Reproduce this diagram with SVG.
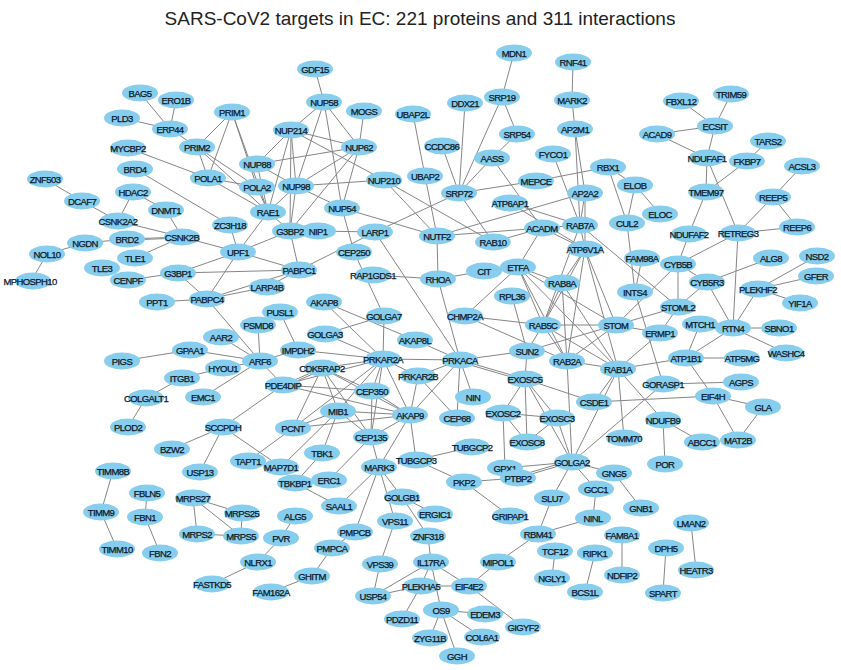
<svg xmlns="http://www.w3.org/2000/svg" width="841" height="670" viewBox="0 0 841 670">
<style>
.e path{stroke:#858585;stroke-width:1;fill:none}
.n ellipse{fill:#87CEEE;stroke:none}
.n text{font-family:"Liberation Sans",Arial,sans-serif;font-size:9.5px;letter-spacing:-0.6px;fill:#0b1626;stroke:#0b1626;stroke-width:0.25px;text-anchor:middle}
.t{font-family:"Liberation Sans",Arial,sans-serif;font-size:19px;fill:#222;text-anchor:middle}
</style>
<rect width="841" height="670" fill="#fff"/>
<text class="t" x="420" y="25">SARS-CoV2 targets in EC: 221 proteins and 311 interactions</text>
<g id="edges" class="e">
<path d="M140 93L170 129"/><path d="M176 100L170 129"/><path d="M122 118L170 129"/><path d="M170 129L197 147"/>
<path d="M197 147L208 178"/><path d="M197 147L232 112"/><path d="M197 147L257 187"/><path d="M197 147L268 212"/>
<path d="M232 112L208 178"/><path d="M232 112L257 187"/><path d="M232 112L268 212"/><path d="M128 148L208 178"/>
<path d="M135 169L230 225"/><path d="M208 178L257 187"/><path d="M208 178L268 212"/><path d="M257 187L268 212"/>
<path d="M45 179L82 201"/><path d="M82 201L118 221"/><path d="M133 192L118 221"/><path d="M133 192L166 210"/>
<path d="M166 210L182 237"/><path d="M118 221L182 237"/><path d="M127 239L182 237"/><path d="M127 240L182 238"/><path d="M127 239L85 243"/>
<path d="M85 243L47 254"/><path d="M47 254L31 281"/><path d="M182 237L135 258"/><path d="M182 237L238 252"/>
<path d="M128 280L178 273"/><path d="M178 273L238 252"/><path d="M178 273L299 270"/><path d="M178 273L207 299"/>
<path d="M157 302L207 299"/>
<path d="M315 69L324 102"/><path d="M324 102L291 130"/><path d="M324 102L296 186"/><path d="M324 102L359 147"/><path d="M324 102L342 208"/>
<path d="M364 111L359 147"/><path d="M291 130L257 164"/><path d="M291 130L359 147"/><path d="M291 130L296 186"/><path d="M291 130L384 180"/>
<path d="M291 130L268 212"/><path d="M291 130L290 231"/><path d="M359 147L257 164"/><path d="M359 147L296 186"/><path d="M359 147L342 208"/>
<path d="M359 147L290 231"/><path d="M257 164L296 186"/><path d="M257 164L268 212"/><path d="M296 186L384 180"/><path d="M296 186L268 212"/>
<path d="M296 186L342 208"/><path d="M296 186L290 231"/><path d="M268 212L290 231"/><path d="M268 212L238 252"/><path d="M230 225L238 252"/>
<path d="M290 231L238 252"/><path d="M290 231L299 270"/><path d="M318 231L375 232"/><path d="M375 232L299 270"/><path d="M375 232L459 193"/>
<path d="M238 252L299 270"/><path d="M238 252L207 299"/><path d="M299 270L267 287"/><path d="M207 299L299 270"/><path d="M207 299L267 287"/>
<path d="M207 299L260 361"/><path d="M354 252L384 316"/><path d="M354 252L342 208"/><path d="M342 208L437 236"/><path d="M384 180L437 236"/>
<path d="M384 180L493 242"/><path d="M413 114L425 176"/><path d="M425 176L437 236"/><path d="M375 232L460 360"/>
<path d="M514 53L502 97"/><path d="M502 97L517 134"/><path d="M502 97L459 193"/><path d="M517 134L492 158"/><path d="M465 103L459 193"/>
<path d="M442 146L459 193"/><path d="M492 158L459 193"/><path d="M492 158L542 228"/><path d="M459 193L536 181"/><path d="M536 181L608 167"/>
<path d="M459 193L493 242"/><path d="M437 236L585 193"/><path d="M437 236L542 228"/><path d="M437 236L438 279"/><path d="M510 203L580 225"/>
<path d="M510 203L585 249"/><path d="M542 228L580 225"/><path d="M542 228L493 242"/><path d="M542 228L518 267"/><path d="M542 228L585 249"/>
<path d="M553 154L580 225"/><path d="M575 129L585 193"/><path d="M575 129L580 225"/><path d="M585 193L580 225"/><path d="M585 193L585 249"/>
<path d="M580 225L585 249"/><path d="M573 62L572 100"/><path d="M572 100L575 129"/><path d="M608 167L627 223"/><path d="M608 167L635 185"/>
<path d="M635 185L627 223"/><path d="M635 185L660 214"/><path d="M627 223L635 292"/>
<path d="M681 101L715 126"/><path d="M731 94L715 126"/><path d="M657 134L715 126"/><path d="M657 134L707 158"/><path d="M715 126L707 158"/>
<path d="M768 141L747 161"/><path d="M747 161L706 192"/><path d="M707 158L706 192"/><path d="M707 158L738 233"/><path d="M706 192L689 234"/>
<path d="M802 166L773 197"/><path d="M773 197L738 233"/><path d="M797 227L738 233"/><path d="M773 197L797 227"/><path d="M738 233L678 264"/>
<path d="M738 233L733 328"/><path d="M689 234L678 264"/><path d="M642 258L635 292"/><path d="M678 264L678 307"/><path d="M678 264L707 282"/>
<path d="M678 264L616 325"/><path d="M707 282L771 258"/><path d="M707 282L733 328"/><path d="M707 282L678 307"/><path d="M758 289L817 256"/>
<path d="M758 289L816 276"/><path d="M758 289L800 303"/><path d="M758 289L733 328"/><path d="M733 328L779 328"/><path d="M733 328L786 353"/>
<path d="M733 328L686 358"/><path d="M700 324L686 358"/><path d="M686 358L742 358"/><path d="M686 358L618 369"/><path d="M686 358L713 396"/>
<path d="M678 307L616 325"/><path d="M678 307L660 333"/><path d="M660 333L618 369"/><path d="M616 325L660 333"/><path d="M635 292L663 384"/>
<path d="M663 384L741 382"/><path d="M663 384L572 462"/><path d="M713 396L763 407"/><path d="M713 396L738 440"/><path d="M713 396L594 402"/>
<path d="M763 407L738 440"/><path d="M663 420L702 442"/><path d="M663 420L665 464"/><path d="M663 420L618 369"/><path d="M618 369L624 438"/>
<path d="M580 225L678 307"/>
<path d="M373 275L438 279"/><path d="M438 279L484 271"/><path d="M438 279L460 360"/><path d="M484 271L518 267"/><path d="M518 267L543 325"/>
<path d="M518 267L562 283"/><path d="M518 267L567 361"/><path d="M518 267L616 325"/><path d="M518 267L618 369"/><path d="M512 296L527 351"/>
<path d="M465 316L543 325"/><path d="M465 316L567 361"/><path d="M465 316L518 267"/><path d="M543 325L616 325"/><path d="M543 325L567 361"/>
<path d="M543 325L618 369"/><path d="M543 325L562 283"/><path d="M543 325L585 249"/><path d="M543 325L580 225"/><path d="M562 283L585 249"/>
<path d="M562 283L567 361"/><path d="M562 283L618 369"/><path d="M527 351L460 360"/><path d="M527 351L616 325"/><path d="M527 351L525 379"/>
<path d="M527 351L543 325"/><path d="M460 360L525 379"/><path d="M460 362L525 381"/><path d="M460 360L473 397"/><path d="M460 360L457 418"/><path d="M460 360L410 415"/>
<path d="M460 360L418 376"/><path d="M460 360L383 359"/><path d="M460 360L415 340"/><path d="M418 376L457 418"/><path d="M525 379L503 413"/>
<path d="M525 379L557 418"/><path d="M525 379L527 442"/><path d="M525 379L594 402"/><path d="M503 413L557 418"/><path d="M503 413L527 442"/>
<path d="M503 413L505 468"/><path d="M557 418L527 442"/><path d="M557 418L572 462"/><path d="M525 379L572 462"/><path d="M567 361L618 369"/>
<path d="M567 361L572 462"/><path d="M567 361L616 325"/><path d="M472 447L416 460"/><path d="M618 369L572 462"/><path d="M594 402L618 369"/>
<path d="M585 249L616 325"/><path d="M585 249L618 369"/><path d="M585 249L567 361"/>
<path d="M298 350L383 359"/><path d="M324 302L383 359"/><path d="M324 302L415 340"/><path d="M325 334L384 316"/><path d="M325 334L383 359"/>
<path d="M384 316L383 359"/><path d="M280 312L298 350"/><path d="M258 325L260 361"/><path d="M221 337L260 361"/><path d="M223 368L260 361"/>
<path d="M190 350L260 361"/><path d="M260 361L283 385"/><path d="M203 397L260 361"/><path d="M260 361L298 350"/><path d="M122 361L190 350"/>
<path d="M182 378L223 368"/><path d="M182 378L146 398"/><path d="M146 398L128 427"/><path d="M172 449L223 427"/><path d="M223 427L200 472"/>
<path d="M283 385L223 427"/><path d="M223 427L281 467"/><path d="M322 368L383 359"/><path d="M322 368L283 385"/><path d="M322 370L283 387"/><path d="M322 368L372 391"/>
<path d="M322 368L338 411"/><path d="M322 368L293 428"/><path d="M322 368L371 437"/><path d="M322 368L410 415"/><path d="M283 385L383 359"/>
<path d="M283 385L410 415"/><path d="M283 385L372 391"/><path d="M293 428L338 411"/><path d="M293 428L383 359"/><path d="M293 428L410 415"/>
<path d="M293 428L248 461"/><path d="M338 411L322 453"/><path d="M338 411L371 437"/><path d="M338 411L281 467"/><path d="M338 411L383 359"/>
<path d="M338 411L410 415"/><path d="M372 391L371 437"/><path d="M372 391L410 415"/><path d="M372 391L383 359"/><path d="M371 437L379 467"/>
<path d="M371 437L410 415"/><path d="M371 437L383 359"/><path d="M410 415L383 359"/><path d="M410 415L416 460"/><path d="M410 415L418 376"/>
<path d="M383 359L418 376"/><path d="M379 467L410 415"/><path d="M322 453L295 483"/><path d="M295 483L339 506"/><path d="M329 480L371 437"/>
<path d="M379 467L339 506"/><path d="M379 467L355 532"/><path d="M379 467L395 521"/><path d="M379 467L402 497"/><path d="M416 460L464 482"/>
<path d="M402 497L435 514"/><path d="M402 497L428 536"/><path d="M395 521L380 564"/><path d="M380 564L373 596"/><path d="M355 532L332 548"/>
<path d="M332 548L312 576"/><path d="M312 576L271 592"/><path d="M295 516L281 538"/><path d="M281 538L258 562"/><path d="M258 562L212 584"/>
<path d="M193 498L242 513"/><path d="M193 498L241 536"/><path d="M193 498L197 534"/><path d="M197 534L241 536"/><path d="M242 513L241 536"/>
<path d="M373 596L421 586"/><path d="M373 596L431 562"/><path d="M421 586L402 619"/><path d="M428 536L431 562"/><path d="M431 562L421 586"/>
<path d="M431 562L469 586"/><path d="M431 562L441 610"/><path d="M421 586L469 586"/><path d="M469 586L498 562"/><path d="M469 586L523 627"/>
<path d="M498 562L538 534"/><path d="M538 534L552 498"/><path d="M538 534L593 518"/><path d="M441 610L485 614"/><path d="M441 610L482 637"/>
<path d="M441 610L430 638"/><path d="M441 610L457 656"/><path d="M572 462L518 478"/><path d="M572 460L518 476"/><path d="M572 462L505 468"/><path d="M572 462L552 498"/>
<path d="M572 462L596 489"/><path d="M572 462L614 473"/><path d="M614 473L641 508"/><path d="M596 489L593 518"/><path d="M464 482L518 478"/>
<path d="M464 482L510 516"/><path d="M555 551L552 578"/><path d="M595 553L585 592"/><path d="M622 535L622 575"/><path d="M666 548L663 593"/>
<path d="M691 523L696 570"/><path d="M147 493L145 517"/><path d="M145 517L160 553"/><path d="M113 471L101 512"/><path d="M101 512L117 549"/>
</g>
<g class="n">
<g id="n_ZNF503"><ellipse cx="45" cy="179" rx="18" ry="8.5"/><text x="45" y="182.5">ZNF503</text></g>
<g id="n_DCAF7"><ellipse cx="82" cy="201" rx="18" ry="8.5"/><text x="82" y="204.5">DCAF7</text></g>
<g id="n_HDAC2"><ellipse cx="133" cy="192" rx="18" ry="8.5"/><text x="133" y="195.5">HDAC2</text></g>
<g id="n_DNMT1"><ellipse cx="166" cy="210" rx="18" ry="8.5"/><text x="166" y="213.5">DNMT1</text></g>
<g id="n_CSNK2A2"><ellipse cx="118" cy="221" rx="18" ry="8.5"/><text x="118" y="224.5">CSNK2A2</text></g>
<g id="n_CSNK2B"><ellipse cx="182" cy="237" rx="18" ry="8.5"/><text x="182" y="240.5">CSNK2B</text></g>
<g id="n_BRD2"><ellipse cx="127" cy="239" rx="18" ry="8.5"/><text x="127" y="242.5">BRD2</text></g>
<g id="n_NGDN"><ellipse cx="85" cy="243" rx="18" ry="8.5"/><text x="85" y="246.5">NGDN</text></g>
<g id="n_NOL10"><ellipse cx="47" cy="254" rx="18" ry="8.5"/><text x="47" y="257.5">NOL10</text></g>
<g id="n_MPHOSPH10"><ellipse cx="33" cy="281" rx="18" ry="8.5"/><text x="30" y="284.5">MPHOSPH10</text></g>
<g id="n_TLE1"><ellipse cx="135" cy="258" rx="18" ry="8.5"/><text x="135" y="261.5">TLE1</text></g>
<g id="n_TLE3"><ellipse cx="102" cy="268" rx="18" ry="8.5"/><text x="102" y="271.5">TLE3</text></g>
<g id="n_CENPF"><ellipse cx="128" cy="280" rx="18" ry="8.5"/><text x="128" y="283.5">CENPF</text></g>
<g id="n_G3BP1"><ellipse cx="178" cy="273" rx="18" ry="8.5"/><text x="178" y="276.5">G3BP1</text></g>
<g id="n_PPT1"><ellipse cx="157" cy="302" rx="18" ry="8.5"/><text x="157" y="305.5">PPT1</text></g>
<g id="n_PABPC4"><ellipse cx="207" cy="299" rx="18" ry="8.5"/><text x="207" y="302.5">PABPC4</text></g>
<g id="n_BRD4"><ellipse cx="135" cy="169" rx="18" ry="8.5"/><text x="135" y="172.5">BRD4</text></g>
<g id="n_MYCBP2"><ellipse cx="128" cy="148" rx="18" ry="8.5"/><text x="128" y="151.5">MYCBP2</text></g>
<g id="n_PLD3"><ellipse cx="122" cy="118" rx="18" ry="8.5"/><text x="122" y="121.5">PLD3</text></g>
<g id="n_BAG5"><ellipse cx="140" cy="93" rx="18" ry="8.5"/><text x="140" y="96.5">BAG5</text></g>
<g id="n_ERO1B"><ellipse cx="176" cy="100" rx="18" ry="8.5"/><text x="176" y="103.5">ERO1B</text></g>
<g id="n_ERP44"><ellipse cx="170" cy="129" rx="18" ry="8.5"/><text x="170" y="132.5">ERP44</text></g>
<g id="n_PRIM2"><ellipse cx="197" cy="147" rx="18" ry="8.5"/><text x="197" y="150.5">PRIM2</text></g>
<g id="n_PRIM1"><ellipse cx="232" cy="112" rx="18" ry="8.5"/><text x="232" y="115.5">PRIM1</text></g>
<g id="n_POLA1"><ellipse cx="208" cy="178" rx="18" ry="8.5"/><text x="208" y="181.5">POLA1</text></g>
<g id="n_POLA2"><ellipse cx="257" cy="187" rx="18" ry="8.5"/><text x="257" y="190.5">POLA2</text></g>
<g id="n_NUP88"><ellipse cx="257" cy="164" rx="18" ry="8.5"/><text x="257" y="167.5">NUP88</text></g>
<g id="n_NUP214"><ellipse cx="291" cy="130" rx="18" ry="8.5"/><text x="291" y="133.5">NUP214</text></g>
<g id="n_NUP58"><ellipse cx="324" cy="102" rx="18" ry="8.5"/><text x="324" y="105.5">NUP58</text></g>
<g id="n_GDF15"><ellipse cx="315" cy="69" rx="18" ry="8.5"/><text x="315" y="72.5">GDF15</text></g>
<g id="n_MOGS"><ellipse cx="364" cy="111" rx="18" ry="8.5"/><text x="364" y="114.5">MOGS</text></g>
<g id="n_NUP62"><ellipse cx="359" cy="147" rx="18" ry="8.5"/><text x="359" y="150.5">NUP62</text></g>
<g id="n_NUP98"><ellipse cx="296" cy="186" rx="18" ry="8.5"/><text x="296" y="189.5">NUP98</text></g>
<g id="n_NUP210"><ellipse cx="384" cy="180" rx="18" ry="8.5"/><text x="384" y="183.5">NUP210</text></g>
<g id="n_NUP54"><ellipse cx="342" cy="208" rx="18" ry="8.5"/><text x="342" y="211.5">NUP54</text></g>
<g id="n_RAE1"><ellipse cx="268" cy="212" rx="18" ry="8.5"/><text x="268" y="215.5">RAE1</text></g>
<g id="n_ZC3H18"><ellipse cx="230" cy="225" rx="18" ry="8.5"/><text x="230" y="228.5">ZC3H18</text></g>
<g id="n_NIP1"><ellipse cx="318" cy="231" rx="18" ry="8.5"/><text x="318" y="234.5">NIP1</text></g>
<g id="n_G3BP2"><ellipse cx="290" cy="231" rx="18" ry="8.5"/><text x="290" y="234.5">G3BP2</text></g>
<g id="n_LARP1"><ellipse cx="375" cy="232" rx="18" ry="8.5"/><text x="375" y="235.5">LARP1</text></g>
<g id="n_UPF1"><ellipse cx="238" cy="252" rx="18" ry="8.5"/><text x="238" y="255.5">UPF1</text></g>
<g id="n_CEP250"><ellipse cx="354" cy="252" rx="18" ry="8.5"/><text x="354" y="255.5">CEP250</text></g>
<g id="n_PABPC1"><ellipse cx="299" cy="270" rx="18" ry="8.5"/><text x="299" y="273.5">PABPC1</text></g>
<g id="n_LARP4B"><ellipse cx="267" cy="287" rx="18" ry="8.5"/><text x="267" y="290.5">LARP4B</text></g>
<g id="n_UBAP2L"><ellipse cx="413" cy="114" rx="18" ry="8.5"/><text x="413" y="117.5">UBAP2L</text></g>
<g id="n_UBAP2"><ellipse cx="425" cy="176" rx="18" ry="8.5"/><text x="425" y="179.5">UBAP2</text></g>
<g id="n_CCDC86"><ellipse cx="442" cy="146" rx="18" ry="8.5"/><text x="442" y="149.5">CCDC86</text></g>
<g id="n_DDX21"><ellipse cx="465" cy="103" rx="18" ry="8.5"/><text x="465" y="106.5">DDX21</text></g>
<g id="n_SRP19"><ellipse cx="502" cy="97" rx="18" ry="8.5"/><text x="502" y="100.5">SRP19</text></g>
<g id="n_MDN1"><ellipse cx="514" cy="53" rx="18" ry="8.5"/><text x="514" y="56.5">MDN1</text></g>
<g id="n_SRP54"><ellipse cx="517" cy="134" rx="18" ry="8.5"/><text x="517" y="137.5">SRP54</text></g>
<g id="n_AASS"><ellipse cx="492" cy="158" rx="18" ry="8.5"/><text x="492" y="161.5">AASS</text></g>
<g id="n_SRP72"><ellipse cx="459" cy="193" rx="18" ry="8.5"/><text x="459" y="196.5">SRP72</text></g>
<g id="n_MEPCE"><ellipse cx="536" cy="181" rx="18" ry="8.5"/><text x="536" y="184.5">MEPCE</text></g>
<g id="n_NUTF2"><ellipse cx="437" cy="236" rx="18" ry="8.5"/><text x="437" y="239.5">NUTF2</text></g>
<g id="n_RAB10"><ellipse cx="493" cy="242" rx="18" ry="8.5"/><text x="493" y="245.5">RAB10</text></g>
<g id="n_ATP6AP1"><ellipse cx="510" cy="203" rx="18" ry="8.5"/><text x="510" y="206.5">ATP6AP1</text></g>
<g id="n_ACADM"><ellipse cx="542" cy="228" rx="18" ry="8.5"/><text x="542" y="231.5">ACADM</text></g>
<g id="n_RAB7A"><ellipse cx="580" cy="225" rx="18" ry="8.5"/><text x="580" y="228.5">RAB7A</text></g>
<g id="n_ATP6V1A"><ellipse cx="585" cy="249" rx="18" ry="8.5"/><text x="585" y="252.5">ATP6V1A</text></g>
<g id="n_AP2A2"><ellipse cx="585" cy="193" rx="18" ry="8.5"/><text x="585" y="196.5">AP2A2</text></g>
<g id="n_FYCO1"><ellipse cx="553" cy="154" rx="18" ry="8.5"/><text x="553" y="157.5">FYCO1</text></g>
<g id="n_AP2M1"><ellipse cx="575" cy="129" rx="18" ry="8.5"/><text x="575" y="132.5">AP2M1</text></g>
<g id="n_MARK2"><ellipse cx="572" cy="100" rx="18" ry="8.5"/><text x="572" y="103.5">MARK2</text></g>
<g id="n_RNF41"><ellipse cx="573" cy="62" rx="18" ry="8.5"/><text x="573" y="65.5">RNF41</text></g>
<g id="n_RBX1"><ellipse cx="608" cy="167" rx="18" ry="8.5"/><text x="608" y="170.5">RBX1</text></g>
<g id="n_ELOB"><ellipse cx="635" cy="185" rx="18" ry="8.5"/><text x="635" y="188.5">ELOB</text></g>
<g id="n_ELOC"><ellipse cx="660" cy="214" rx="18" ry="8.5"/><text x="660" y="217.5">ELOC</text></g>
<g id="n_CUL2"><ellipse cx="627" cy="223" rx="18" ry="8.5"/><text x="627" y="226.5">CUL2</text></g>
<g id="n_FBXL12"><ellipse cx="681" cy="101" rx="18" ry="8.5"/><text x="681" y="104.5">FBXL12</text></g>
<g id="n_TRIM59"><ellipse cx="731" cy="94" rx="18" ry="8.5"/><text x="731" y="97.5">TRIM59</text></g>
<g id="n_ECSIT"><ellipse cx="715" cy="126" rx="18" ry="8.5"/><text x="715" y="129.5">ECSIT</text></g>
<g id="n_ACAD9"><ellipse cx="657" cy="134" rx="18" ry="8.5"/><text x="657" y="137.5">ACAD9</text></g>
<g id="n_NDUFAF1"><ellipse cx="707" cy="158" rx="18" ry="8.5"/><text x="707" y="161.5">NDUFAF1</text></g>
<g id="n_TARS2"><ellipse cx="768" cy="141" rx="18" ry="8.5"/><text x="768" y="144.5">TARS2</text></g>
<g id="n_FKBP7"><ellipse cx="747" cy="161" rx="18" ry="8.5"/><text x="747" y="164.5">FKBP7</text></g>
<g id="n_TMEM97"><ellipse cx="706" cy="192" rx="18" ry="8.5"/><text x="706" y="195.5">TMEM97</text></g>
<g id="n_ACSL3"><ellipse cx="802" cy="166" rx="18" ry="8.5"/><text x="802" y="169.5">ACSL3</text></g>
<g id="n_REEP5"><ellipse cx="773" cy="197" rx="18" ry="8.5"/><text x="773" y="200.5">REEP5</text></g>
<g id="n_REEP6"><ellipse cx="797" cy="227" rx="18" ry="8.5"/><text x="797" y="230.5">REEP6</text></g>
<g id="n_RETREG3"><ellipse cx="738" cy="233" rx="18" ry="8.5"/><text x="738" y="236.5">RETREG3</text></g>
<g id="n_NDUFAF2"><ellipse cx="689" cy="234" rx="18" ry="8.5"/><text x="689" y="237.5">NDUFAF2</text></g>
<g id="n_CYB5B"><ellipse cx="678" cy="264" rx="18" ry="8.5"/><text x="678" y="267.5">CYB5B</text></g>
<g id="n_FAM98A"><ellipse cx="642" cy="258" rx="18" ry="8.5"/><text x="642" y="261.5">FAM98A</text></g>
<g id="n_INTS4"><ellipse cx="635" cy="292" rx="18" ry="8.5"/><text x="635" y="295.5">INTS4</text></g>
<g id="n_STOML2"><ellipse cx="678" cy="307" rx="18" ry="8.5"/><text x="678" y="310.5">STOML2</text></g>
<g id="n_ERMP1"><ellipse cx="660" cy="333" rx="18" ry="8.5"/><text x="660" y="336.5">ERMP1</text></g>
<g id="n_CYB5R3"><ellipse cx="707" cy="282" rx="18" ry="8.5"/><text x="707" y="285.5">CYB5R3</text></g>
<g id="n_ALG8"><ellipse cx="771" cy="258" rx="18" ry="8.5"/><text x="771" y="261.5">ALG8</text></g>
<g id="n_NSD2"><ellipse cx="817" cy="256" rx="18" ry="8.5"/><text x="817" y="259.5">NSD2</text></g>
<g id="n_GFER"><ellipse cx="816" cy="276" rx="18" ry="8.5"/><text x="816" y="279.5">GFER</text></g>
<g id="n_PLEKHF2"><ellipse cx="758" cy="289" rx="18" ry="8.5"/><text x="758" y="292.5">PLEKHF2</text></g>
<g id="n_YIF1A"><ellipse cx="800" cy="303" rx="18" ry="8.5"/><text x="800" y="306.5">YIF1A</text></g>
<g id="n_RTN4"><ellipse cx="733" cy="328" rx="18" ry="8.5"/><text x="733" y="331.5">RTN4</text></g>
<g id="n_SBNO1"><ellipse cx="779" cy="328" rx="18" ry="8.5"/><text x="779" y="331.5">SBNO1</text></g>
<g id="n_WASHC4"><ellipse cx="786" cy="353" rx="18" ry="8.5"/><text x="786" y="356.5">WASHC4</text></g>
<g id="n_MTCH1"><ellipse cx="700" cy="324" rx="18" ry="8.5"/><text x="700" y="327.5">MTCH1</text></g>
<g id="n_ATP1B1"><ellipse cx="686" cy="358" rx="18" ry="8.5"/><text x="686" y="361.5">ATP1B1</text></g>
<g id="n_ATP5MG"><ellipse cx="742" cy="358" rx="18" ry="8.5"/><text x="742" y="361.5">ATP5MG</text></g>
<g id="n_AGPS"><ellipse cx="741" cy="382" rx="18" ry="8.5"/><text x="741" y="385.5">AGPS</text></g>
<g id="n_GORASP1"><ellipse cx="663" cy="384" rx="18" ry="8.5"/><text x="663" y="387.5">GORASP1</text></g>
<g id="n_EIF4H"><ellipse cx="713" cy="396" rx="18" ry="8.5"/><text x="713" y="399.5">EIF4H</text></g>
<g id="n_GLA"><ellipse cx="763" cy="407" rx="18" ry="8.5"/><text x="763" y="410.5">GLA</text></g>
<g id="n_MAT2B"><ellipse cx="738" cy="440" rx="18" ry="8.5"/><text x="738" y="443.5">MAT2B</text></g>
<g id="n_NDUFB9"><ellipse cx="663" cy="420" rx="18" ry="8.5"/><text x="663" y="423.5">NDUFB9</text></g>
<g id="n_ABCC1"><ellipse cx="702" cy="442" rx="18" ry="8.5"/><text x="702" y="445.5">ABCC1</text></g>
<g id="n_POR"><ellipse cx="665" cy="464" rx="18" ry="8.5"/><text x="665" y="467.5">POR</text></g>
<g id="n_TOMM70"><ellipse cx="624" cy="438" rx="18" ry="8.5"/><text x="624" y="441.5">TOMM70</text></g>
<g id="n_STOM"><ellipse cx="616" cy="325" rx="18" ry="8.5"/><text x="616" y="328.5">STOM</text></g>
<g id="n_RAB1A"><ellipse cx="618" cy="369" rx="18" ry="8.5"/><text x="618" y="372.5">RAB1A</text></g>
<g id="n_RAB2A"><ellipse cx="567" cy="361" rx="18" ry="8.5"/><text x="567" y="364.5">RAB2A</text></g>
<g id="n_RAB5C"><ellipse cx="543" cy="325" rx="18" ry="8.5"/><text x="543" y="328.5">RAB5C</text></g>
<g id="n_RAB8A"><ellipse cx="562" cy="283" rx="18" ry="8.5"/><text x="562" y="286.5">RAB8A</text></g>
<g id="n_ETFA"><ellipse cx="518" cy="267" rx="18" ry="8.5"/><text x="518" y="270.5">ETFA</text></g>
<g id="n_CIT"><ellipse cx="484" cy="271" rx="18" ry="8.5"/><text x="484" y="274.5">CIT</text></g>
<g id="n_RHOA"><ellipse cx="438" cy="279" rx="18" ry="8.5"/><text x="438" y="282.5">RHOA</text></g>
<g id="n_RPL36"><ellipse cx="512" cy="296" rx="18" ry="8.5"/><text x="512" y="299.5">RPL36</text></g>
<g id="n_CHMP2A"><ellipse cx="465" cy="316" rx="18" ry="8.5"/><text x="465" y="319.5">CHMP2A</text></g>
<g id="n_SUN2"><ellipse cx="527" cy="351" rx="18" ry="8.5"/><text x="527" y="354.5">SUN2</text></g>
<g id="n_PRKACA"><ellipse cx="460" cy="360" rx="18" ry="8.5"/><text x="460" y="363.5">PRKACA</text></g>
<g id="n_EXOSC5"><ellipse cx="525" cy="379" rx="18" ry="8.5"/><text x="525" y="382.5">EXOSC5</text></g>
<g id="n_CSDE1"><ellipse cx="594" cy="402" rx="18" ry="8.5"/><text x="594" y="405.5">CSDE1</text></g>
<g id="n_NIN"><ellipse cx="473" cy="397" rx="18" ry="8.5"/><text x="473" y="400.5">NIN</text></g>
<g id="n_CEP68"><ellipse cx="457" cy="418" rx="18" ry="8.5"/><text x="457" y="421.5">CEP68</text></g>
<g id="n_EXOSC2"><ellipse cx="503" cy="413" rx="18" ry="8.5"/><text x="503" y="416.5">EXOSC2</text></g>
<g id="n_EXOSC3"><ellipse cx="557" cy="418" rx="18" ry="8.5"/><text x="557" y="421.5">EXOSC3</text></g>
<g id="n_EXOSC8"><ellipse cx="527" cy="442" rx="18" ry="8.5"/><text x="527" y="445.5">EXOSC8</text></g>
<g id="n_TUBGCP2"><ellipse cx="472" cy="447" rx="18" ry="8.5"/><text x="472" y="450.5">TUBGCP2</text></g>
<g id="n_TUBGCP3"><ellipse cx="416" cy="460" rx="18" ry="8.5"/><text x="416" y="463.5">TUBGCP3</text></g>
<g id="n_GPX1"><ellipse cx="505" cy="468" rx="18" ry="8.5"/><text x="505" y="471.5">GPX1</text></g>
<g id="n_PTBP2"><ellipse cx="518" cy="478" rx="18" ry="8.5"/><text x="518" y="481.5">PTBP2</text></g>
<g id="n_GOLGA2"><ellipse cx="572" cy="462" rx="18" ry="8.5"/><text x="572" y="465.5">GOLGA2</text></g>
<g id="n_GNG5"><ellipse cx="614" cy="473" rx="18" ry="8.5"/><text x="614" y="476.5">GNG5</text></g>
<g id="n_GNB1"><ellipse cx="641" cy="508" rx="18" ry="8.5"/><text x="641" y="511.5">GNB1</text></g>
<g id="n_GCC1"><ellipse cx="596" cy="489" rx="18" ry="8.5"/><text x="596" y="492.5">GCC1</text></g>
<g id="n_SLU7"><ellipse cx="552" cy="498" rx="18" ry="8.5"/><text x="552" y="501.5">SLU7</text></g>
<g id="n_NINL"><ellipse cx="593" cy="518" rx="18" ry="8.5"/><text x="593" y="521.5">NINL</text></g>
<g id="n_RBM41"><ellipse cx="538" cy="534" rx="18" ry="8.5"/><text x="538" y="537.5">RBM41</text></g>
<g id="n_TCF12"><ellipse cx="555" cy="551" rx="18" ry="8.5"/><text x="555" y="554.5">TCF12</text></g>
<g id="n_NGLY1"><ellipse cx="552" cy="578" rx="18" ry="8.5"/><text x="552" y="581.5">NGLY1</text></g>
<g id="n_RIPK1"><ellipse cx="595" cy="553" rx="18" ry="8.5"/><text x="595" y="556.5">RIPK1</text></g>
<g id="n_BCS1L"><ellipse cx="585" cy="592" rx="18" ry="8.5"/><text x="585" y="595.5">BCS1L</text></g>
<g id="n_FAM8A1"><ellipse cx="622" cy="535" rx="18" ry="8.5"/><text x="622" y="538.5">FAM8A1</text></g>
<g id="n_NDFIP2"><ellipse cx="622" cy="575" rx="18" ry="8.5"/><text x="622" y="578.5">NDFIP2</text></g>
<g id="n_DPH5"><ellipse cx="666" cy="548" rx="18" ry="8.5"/><text x="666" y="551.5">DPH5</text></g>
<g id="n_SPART"><ellipse cx="663" cy="593" rx="18" ry="8.5"/><text x="663" y="596.5">SPART</text></g>
<g id="n_LMAN2"><ellipse cx="691" cy="523" rx="18" ry="8.5"/><text x="691" y="526.5">LMAN2</text></g>
<g id="n_HEATR3"><ellipse cx="696" cy="570" rx="18" ry="8.5"/><text x="696" y="573.5">HEATR3</text></g>
<g id="n_PKP2"><ellipse cx="464" cy="482" rx="18" ry="8.5"/><text x="464" y="485.5">PKP2</text></g>
<g id="n_GRIPAP1"><ellipse cx="510" cy="516" rx="18" ry="8.5"/><text x="510" y="519.5">GRIPAP1</text></g>
<g id="n_MIPOL1"><ellipse cx="498" cy="562" rx="18" ry="8.5"/><text x="498" y="565.5">MIPOL1</text></g>
<g id="n_EIF4E2"><ellipse cx="469" cy="586" rx="18" ry="8.5"/><text x="469" y="589.5">EIF4E2</text></g>
<g id="n_GIGYF2"><ellipse cx="523" cy="627" rx="18" ry="8.5"/><text x="523" y="630.5">GIGYF2</text></g>
<g id="n_EDEM3"><ellipse cx="485" cy="614" rx="18" ry="8.5"/><text x="485" y="617.5">EDEM3</text></g>
<g id="n_COL6A1"><ellipse cx="482" cy="637" rx="18" ry="8.5"/><text x="482" y="640.5">COL6A1</text></g>
<g id="n_OS9"><ellipse cx="441" cy="610" rx="18" ry="8.5"/><text x="441" y="613.5">OS9</text></g>
<g id="n_ZYG11B"><ellipse cx="430" cy="638" rx="18" ry="8.5"/><text x="430" y="641.5">ZYG11B</text></g>
<g id="n_GGH"><ellipse cx="457" cy="656" rx="18" ry="8.5"/><text x="457" y="659.5">GGH</text></g>
<g id="n_PDZD11"><ellipse cx="402" cy="619" rx="18" ry="8.5"/><text x="402" y="622.5">PDZD11</text></g>
<g id="n_PLEKHA5"><ellipse cx="421" cy="586" rx="18" ry="8.5"/><text x="421" y="589.5">PLEKHA5</text></g>
<g id="n_IL17RA"><ellipse cx="431" cy="562" rx="18" ry="8.5"/><text x="431" y="565.5">IL17RA</text></g>
<g id="n_ZNF318"><ellipse cx="428" cy="536" rx="18" ry="8.5"/><text x="428" y="539.5">ZNF318</text></g>
<g id="n_ERGIC1"><ellipse cx="435" cy="514" rx="18" ry="8.5"/><text x="435" y="517.5">ERGIC1</text></g>
<g id="n_GOLGB1"><ellipse cx="402" cy="497" rx="18" ry="8.5"/><text x="402" y="500.5">GOLGB1</text></g>
<g id="n_MARK3"><ellipse cx="379" cy="467" rx="18" ry="8.5"/><text x="379" y="470.5">MARK3</text></g>
<g id="n_VPS11"><ellipse cx="395" cy="521" rx="18" ry="8.5"/><text x="395" y="524.5">VPS11</text></g>
<g id="n_VPS39"><ellipse cx="380" cy="564" rx="18" ry="8.5"/><text x="380" y="567.5">VPS39</text></g>
<g id="n_USP54"><ellipse cx="373" cy="596" rx="18" ry="8.5"/><text x="373" y="599.5">USP54</text></g>
<g id="n_PMPCB"><ellipse cx="355" cy="532" rx="18" ry="8.5"/><text x="355" y="535.5">PMPCB</text></g>
<g id="n_PMPCA"><ellipse cx="332" cy="548" rx="18" ry="8.5"/><text x="332" y="551.5">PMPCA</text></g>
<g id="n_GHITM"><ellipse cx="312" cy="576" rx="18" ry="8.5"/><text x="312" y="579.5">GHITM</text></g>
<g id="n_FAM162A"><ellipse cx="271" cy="592" rx="18" ry="8.5"/><text x="271" y="595.5">FAM162A</text></g>
<g id="n_SAAL1"><ellipse cx="339" cy="506" rx="18" ry="8.5"/><text x="339" y="509.5">SAAL1</text></g>
<g id="n_ERC1"><ellipse cx="329" cy="480" rx="18" ry="8.5"/><text x="329" y="483.5">ERC1</text></g>
<g id="n_TBKBP1"><ellipse cx="295" cy="483" rx="18" ry="8.5"/><text x="295" y="486.5">TBKBP1</text></g>
<g id="n_TBK1"><ellipse cx="322" cy="453" rx="18" ry="8.5"/><text x="322" y="456.5">TBK1</text></g>
<g id="n_TAPT1"><ellipse cx="248" cy="461" rx="18" ry="8.5"/><text x="248" y="464.5">TAPT1</text></g>
<g id="n_MAP7D1"><ellipse cx="281" cy="467" rx="18" ry="8.5"/><text x="281" y="470.5">MAP7D1</text></g>
<g id="n_ALG5"><ellipse cx="295" cy="516" rx="18" ry="8.5"/><text x="295" y="519.5">ALG5</text></g>
<g id="n_PVR"><ellipse cx="281" cy="538" rx="18" ry="8.5"/><text x="281" y="541.5">PVR</text></g>
<g id="n_NLRX1"><ellipse cx="258" cy="562" rx="18" ry="8.5"/><text x="258" y="565.5">NLRX1</text></g>
<g id="n_FASTKD5"><ellipse cx="212" cy="584" rx="18" ry="8.5"/><text x="212" y="587.5">FASTKD5</text></g>
<g id="n_MRPS25"><ellipse cx="242" cy="513" rx="18" ry="8.5"/><text x="242" y="516.5">MRPS25</text></g>
<g id="n_MRPS5"><ellipse cx="241" cy="536" rx="18" ry="8.5"/><text x="241" y="539.5">MRPS5</text></g>
<g id="n_MRPS2"><ellipse cx="197" cy="534" rx="18" ry="8.5"/><text x="197" y="537.5">MRPS2</text></g>
<g id="n_MRPS27"><ellipse cx="193" cy="498" rx="18" ry="8.5"/><text x="193" y="501.5">MRPS27</text></g>
<g id="n_FBLN5"><ellipse cx="147" cy="493" rx="18" ry="8.5"/><text x="147" y="496.5">FBLN5</text></g>
<g id="n_FBN1"><ellipse cx="145" cy="517" rx="18" ry="8.5"/><text x="145" y="520.5">FBN1</text></g>
<g id="n_FBN2"><ellipse cx="160" cy="553" rx="18" ry="8.5"/><text x="160" y="556.5">FBN2</text></g>
<g id="n_TIMM8B"><ellipse cx="113" cy="471" rx="18" ry="8.5"/><text x="113" y="474.5">TIMM8B</text></g>
<g id="n_TIMM9"><ellipse cx="101" cy="512" rx="18" ry="8.5"/><text x="101" y="515.5">TIMM9</text></g>
<g id="n_TIMM10"><ellipse cx="117" cy="549" rx="18" ry="8.5"/><text x="117" y="552.5">TIMM10</text></g>
<g id="n_USP13"><ellipse cx="200" cy="472" rx="18" ry="8.5"/><text x="200" y="475.5">USP13</text></g>
<g id="n_BZW2"><ellipse cx="172" cy="449" rx="18" ry="8.5"/><text x="172" y="452.5">BZW2</text></g>
<g id="n_SCCPDH"><ellipse cx="223" cy="427" rx="18" ry="8.5"/><text x="223" y="430.5">SCCPDH</text></g>
<g id="n_PCNT"><ellipse cx="293" cy="428" rx="18" ry="8.5"/><text x="293" y="431.5">PCNT</text></g>
<g id="n_MIB1"><ellipse cx="338" cy="411" rx="18" ry="8.5"/><text x="338" y="414.5">MIB1</text></g>
<g id="n_CEP135"><ellipse cx="371" cy="437" rx="18" ry="8.5"/><text x="371" y="440.5">CEP135</text></g>
<g id="n_CEP350"><ellipse cx="372" cy="391" rx="18" ry="8.5"/><text x="372" y="394.5">CEP350</text></g>
<g id="n_AKAP9"><ellipse cx="410" cy="415" rx="18" ry="8.5"/><text x="410" y="418.5">AKAP9</text></g>
<g id="n_PRKAR2B"><ellipse cx="418" cy="376" rx="18" ry="8.5"/><text x="418" y="379.5">PRKAR2B</text></g>
<g id="n_PRKAR2A"><ellipse cx="383" cy="359" rx="18" ry="8.5"/><text x="383" y="362.5">PRKAR2A</text></g>
<g id="n_CDK5RAP2"><ellipse cx="322" cy="368" rx="18" ry="8.5"/><text x="322" y="371.5">CDK5RAP2</text></g>
<g id="n_PDE4DIP"><ellipse cx="283" cy="385" rx="18" ry="8.5"/><text x="283" y="388.5">PDE4DIP</text></g>
<g id="n_IMPDH2"><ellipse cx="298" cy="350" rx="18" ry="8.5"/><text x="298" y="353.5">IMPDH2</text></g>
<g id="n_ARF6"><ellipse cx="260" cy="361" rx="18" ry="8.5"/><text x="260" y="364.5">ARF6</text></g>
<g id="n_PSMD8"><ellipse cx="258" cy="325" rx="18" ry="8.5"/><text x="258" y="328.5">PSMD8</text></g>
<g id="n_PUSL1"><ellipse cx="280" cy="312" rx="18" ry="8.5"/><text x="280" y="315.5">PUSL1</text></g>
<g id="n_AAR2"><ellipse cx="221" cy="337" rx="18" ry="8.5"/><text x="221" y="340.5">AAR2</text></g>
<g id="n_GPAA1"><ellipse cx="190" cy="350" rx="18" ry="8.5"/><text x="190" y="353.5">GPAA1</text></g>
<g id="n_PIGS"><ellipse cx="122" cy="361" rx="18" ry="8.5"/><text x="122" y="364.5">PIGS</text></g>
<g id="n_HYOU1"><ellipse cx="223" cy="368" rx="18" ry="8.5"/><text x="223" y="371.5">HYOU1</text></g>
<g id="n_ITGB1"><ellipse cx="182" cy="378" rx="18" ry="8.5"/><text x="182" y="381.5">ITGB1</text></g>
<g id="n_EMC1"><ellipse cx="203" cy="397" rx="18" ry="8.5"/><text x="203" y="400.5">EMC1</text></g>
<g id="n_COLGALT1"><ellipse cx="146" cy="398" rx="18" ry="8.5"/><text x="146" y="401.5">COLGALT1</text></g>
<g id="n_PLOD2"><ellipse cx="128" cy="427" rx="18" ry="8.5"/><text x="128" y="430.5">PLOD2</text></g>
<g id="n_AKAP8"><ellipse cx="324" cy="302" rx="18" ry="8.5"/><text x="324" y="305.5">AKAP8</text></g>
<g id="n_GOLGA7"><ellipse cx="384" cy="316" rx="18" ry="8.5"/><text x="384" y="319.5">GOLGA7</text></g>
<g id="n_GOLGA3"><ellipse cx="325" cy="334" rx="18" ry="8.5"/><text x="325" y="337.5">GOLGA3</text></g>
<g id="n_AKAP8L"><ellipse cx="415" cy="340" rx="18" ry="8.5"/><text x="415" y="343.5">AKAP8L</text></g>
<g id="n_RAP1GDS1"><ellipse cx="373" cy="275" rx="18" ry="8.5"/><text x="373" y="278.5">RAP1GDS1</text></g>
</g>
</svg>
